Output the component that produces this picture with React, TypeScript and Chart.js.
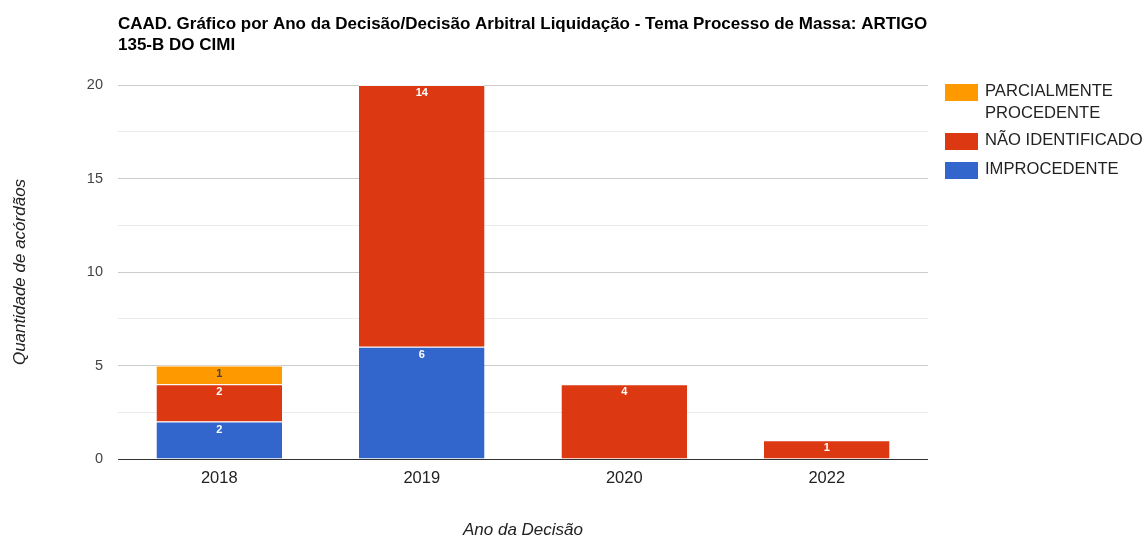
import React, { useEffect, useRef } from "react";
import { Chart, registerables } from "chart.js";

Chart.register(...registerables);

const categories = ["2018", "2019", "2020", "2022"];
const improcedente = [2, 6, 0, 0];
const naoIdentificado = [2, 14, 4, 1];
const parcialmente = [1, 0, 0, 0];
const yTicks = [0, 5, 10, 15, 20];

const titleLines = [
  "CAAD. Gráfico por Ano da Decisão/Decisão Arbitral Liquidação - Tema Processo de Massa: ARTIGO",
  "135-B DO CIMI",
];
const xTitle = "Ano da Decisão";
const yTitle = "Quantidade de acórdãos";

const FONT = '"Liberation Sans", Arial, sans-serif';

const legendItems = [
  { lines: ["PARCIALMENTE", "PROCEDENTE"], color: "#ff9900" },
  { lines: ["NÃO IDENTIFICADO"], color: "#dc3912" },
  { lines: ["IMPROCEDENTE"], color: "#3366cc" },
];

const decorPlugin = {
  id: "decor",
  afterDatasetsDraw(chart: any) {
    const ctx = chart.ctx;
    ctx.save();
    ctx.font = `bold 11px ${FONT}`;
    ctx.textAlign = "center";
    ctx.textBaseline = "middle";
    chart.data.datasets.forEach((ds: any, di: number) => {
      const meta = chart.getDatasetMeta(di);
      meta.data.forEach((el: any, i: number) => {
        const v = ds.data[i];
        if (!v) return;
        ctx.fillStyle = ds.labelColor;
        ctx.fillText(String(v), el.x, el.y + 8);
      });
    });
    ctx.restore();
  },
  afterDraw(chart: any) {
    const ctx = chart.ctx;
    const area = chart.chartArea;
    ctx.save();
    // Title
    ctx.fillStyle = "#000";
    ctx.font = `bold 17px ${FONT}`;
    ctx.textAlign = "left";
    ctx.textBaseline = "middle";
    titleLines.forEach((t, i) => ctx.fillText(t, area.left, 24 + i * 21));
    // Axis titles
    ctx.font = `italic 17px ${FONT}`;
    ctx.fillStyle = "#222";
    ctx.textAlign = "center";
    ctx.fillText(xTitle, (area.left + area.right) / 2, 530);
    ctx.save();
    ctx.translate(20, (area.top + area.bottom) / 2);
    ctx.rotate(-Math.PI / 2);
    ctx.fillText(yTitle, 0, 0);
    ctx.restore();
    // Legend
    ctx.font = `16.6px ${FONT}`;
    ctx.textAlign = "left";
    let y = 84;
    legendItems.forEach((item) => {
      ctx.fillStyle = item.color;
      ctx.fillRect(945, y, 33, 17);
      ctx.fillStyle = "#222";
      item.lines.forEach((l, k) => ctx.fillText(l, 985, y + 7 + k * 22));
      y += item.lines.length === 2 ? 49 : 29;
    });
    ctx.restore();
  },
};

export default function App() {
  const ref = useRef<HTMLCanvasElement>(null);
  useEffect(() => {
    if (!ref.current) return;
    const border = { top: 1, left: 0, right: 0, bottom: 0 };
    const chart = new Chart(ref.current, {
      type: "bar",
      data: {
        labels: categories,
        datasets: [
          {
            label: "IMPROCEDENTE",
            data: improcedente,
            backgroundColor: "#3366cc",
            borderColor: "rgba(255,255,255,0.85)",
            borderWidth: border,
            borderSkipped: false,
            labelColor: "#ffffff",
          } as any,
          {
            label: "NÃO IDENTIFICADO",
            data: naoIdentificado,
            backgroundColor: "#dc3912",
            borderColor: "rgba(255,255,255,0.85)",
            borderWidth: border,
            borderSkipped: false,
            labelColor: "#ffffff",
          } as any,
          {
            label: "PARCIALMENTE PROCEDENTE",
            data: parcialmente,
            backgroundColor: "#ff9900",
            borderColor: "rgba(255,255,255,0.85)",
            borderWidth: border,
            borderSkipped: false,
            labelColor: "#444444",
          } as any,
        ],
      },
      options: {
        animation: false,
        responsive: true,
        maintainAspectRatio: false,
        layout: { padding: { top: 85, right: 220, left: 0, bottom: 0 } },
        datasets: { bar: { categoryPercentage: 1, barPercentage: 0.62 } },
        plugins: {
          legend: { display: false },
          title: { display: false },
          tooltip: { enabled: false },
        },
        scales: {
          x: {
            stacked: true,
            grid: { display: false, drawTicks: false },
            border: { display: false },
            ticks: { color: "#222", font: { family: FONT, size: 16.5 }, padding: 10 },
            afterFit: (s: any) => {
              s.height = 77;
            },
          },
          y: {
            stacked: true,
            min: 0,
            max: 20,
            border: { display: false },
            grid: {
              drawTicks: false,
              color: (c: any) => {
                const v = c.tick ? c.tick.value : 0;
                if (v === 0) return "#333333";
                return yTicks.includes(v) ? "#cccccc" : "#ebebeb";
              },
            },
            ticks: {
              stepSize: 2.5,
              padding: 15,
              color: "#444",
              font: { family: FONT, size: 14.5 },
              callback: (v: any) => (yTicks.includes(Number(v)) ? String(v) : ""),
            },
            afterFit: (s: any) => {
              s.width = 118;
            },
          },
        },
      },
      plugins: [decorPlugin],
    });
    return () => chart.destroy();
  }, []);
  return (
    <div style={{ position: "fixed", left: 0, top: 0, width: 1148, height: 536, background: "#fff" }}>
      <canvas ref={ref} />
    </div>
  );
}
